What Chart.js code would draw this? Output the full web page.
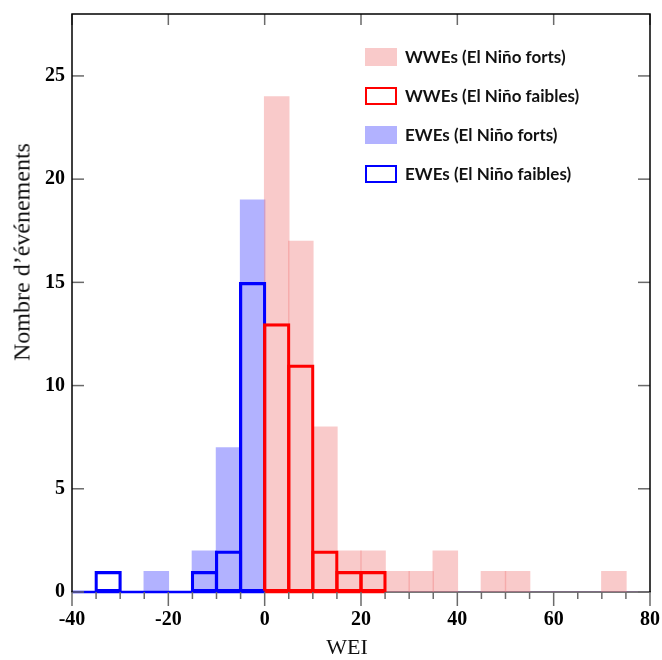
<!DOCTYPE html>
<html>
<head>
<meta charset="utf-8">
<script src="https://cdn.jsdelivr.net/npm/chart.js@4.4.1/dist/chart.umd.min.js"></script>
<style>
  body { margin: 0; background: #fff; }
  #wrap { position: relative; width: 662px; height: 660px; }
  #legend { position: absolute; left: 365px; top: 37px; font-family: Lato, sans-serif; font-weight: bold; font-size: 17px; color: #111; }
  .item { display: flex; align-items: center; height: 39px; }
  .swatch { width: 32px; height: 18px; box-sizing: border-box; margin-right: 8px; }
  .title { position: absolute; font-family: 'Liberation Serif', serif; color: #111; white-space: nowrap; }
  #ytitle { left: 22px; top: 252px; font-size: 24px; transform: translate(-50%, -50%) rotate(-90deg); }
  #xtitle { left: 347px; top: 647px; font-size: 22px; transform: translate(-50%, -50%); }
</style>
</head>
<body>
<div id="wrap">
  <canvas id="chart"></canvas>
  <div id="legend"></div>
  <div class="title" id="ytitle">Nombre d’événements</div>
  <div class="title" id="xtitle">WEI</div>
</div>
<script>
// histogram bins (left edges), width 5
const binLeft = [-40, -35, -30, -25, -20, -15, -10, -5, 0, 5, 10, 15, 20, 25, 30, 35, 40, 45, 50, 55, 60, 65, 70, 75];
const binWidth = 5;

// counts per bin, null = outside the series range
const wweStrong = [0, 0, 0, 0, 0, 0, 0, 0, 24, 17, 8, 2, 2, 1, 1, 2, 0, 1, 1, 0, 0, 0, 1, 0];
const wweWeak   = [null, null, null, null, null, null, null, null, 13, 11, 2, 1, 1, null, null, null, null, null, null, null, null, null, null, null];
const eweStrong = [0, 0, 0, 1, 0, 2, 7, 19, 0, 0, 0, 0, 0, 0, 0, 0, 0, 0, 0, 0, 0, 0, 0, 0];
const eweWeak   = [0, 1, 0, 0, 0, 1, 2, 15, null, null, null, null, null, null, null, null, null, null, null, null, null, null, null, null];

const labels = ['WWEs (El Niño forts)', 'WWEs (El Niño faibles)', 'EWEs (El Niño forts)', 'EWEs (El Niño faibles)'];

const xTicks = [-40, -20, 0, 20, 40, 60, 80];
const yTicks = [0, 5, 10, 15, 20, 25];

// plot box inside the canvas
const AREA = { left: 72, right: 650, top: 14, bottom: 592 };
const binPx = (AREA.right - AREA.left) / ((xTicks[xTicks.length - 1] - xTicks[0]) / binWidth);

const PINK = 'rgba(240, 128, 128, 0.42)';
const LBLUE = 'rgba(0, 0, 255, 0.3)';
const RED = '#ff0000';
const BLUE = '#0000ff';
const OUT_W = 2.6;

function toPoints(arr) {
    return arr.map((v, i) => v === null ? null : { x: binLeft[i] + binWidth / 2, y: v }).filter(p => p);
}

// zero line under an outlined series, from its first to its last bin edge
function baseline(arr) {
    const idx = arr.map((v, i) => v === null ? -1 : i).filter(i => i >= 0);
    return [{ x: binLeft[idx[0]], y: 0 }, { x: binLeft[idx[idx.length - 1]] + binWidth, y: 0 }];
}

const filled = (label, data, color) => ({
    type: 'bar', label, data: toPoints(data), backgroundColor: color, borderWidth: 0,
    barThickness: binPx + 0.8, grouped: false, order: 3
});
const outlined = (label, data, color) => ({
    type: 'bar', label, data: toPoints(data), backgroundColor: 'rgba(0,0,0,0)', borderColor: color,
    borderWidth: OUT_W, borderSkipped: false, barThickness: binPx + OUT_W, grouped: false, order: 2, clip: false
});
const zeroLine = (data, color) => ({
    type: 'line', data: baseline(data), borderColor: color, borderWidth: OUT_W, pointRadius: 0,
    order: 1, clip: false
});

const frame = {
    id: 'frame',
    afterDatasetsDraw(chart) {
        const { ctx, chartArea: a, scales: { x, y } } = chart;
        const seg = (x1, y1, x2, y2) => { ctx.beginPath(); ctx.moveTo(x1, y1); ctx.lineTo(x2, y2); ctx.stroke(); };
        ctx.save();
        ctx.strokeStyle = '#6a6a6a';
        ctx.lineWidth = 1.5;
        yTicks.forEach(v => {
            const py = y.getPixelForValue(v);
            seg(a.left, py, a.left + 12, py);
            seg(a.right, py, a.right - 12, py);
        });
        binLeft.forEach(v => {
            if (v % 20 === 0) return;
            const px = x.getPixelForValue(v);
            seg(px, a.bottom, px, a.bottom + 7);
        });
        xTicks.forEach(v => {
            const px = x.getPixelForValue(v);
            seg(px, a.bottom, px, a.bottom + 14);
            seg(px, a.top, px, a.top + 11);
        });
        ctx.strokeStyle = '#000';
        ctx.beginPath();
        ctx.moveTo(a.left, a.bottom);
        ctx.lineTo(a.left, a.top);
        ctx.lineTo(a.right, a.top);
        ctx.lineTo(a.right, a.bottom);
        ctx.stroke();
        ctx.restore();
    }
};

const tickFont = { family: "'Liberation Serif', serif", size: 20, weight: 'bold' };
const noPad = s => { s.paddingLeft = 0; s.paddingRight = 0; s.paddingTop = 0; s.paddingBottom = 0; };

const chart = new Chart(document.getElementById('chart'), {
    data: {
        datasets: [
            filled(labels[0], wweStrong, PINK),
            filled(labels[2], eweStrong, LBLUE),
            outlined(labels[1], wweWeak, RED),
            outlined(labels[3], eweWeak, BLUE),
            zeroLine(wweWeak, RED),
            zeroLine(eweWeak, BLUE)
        ]
    },
    options: {
        responsive: true,
        maintainAspectRatio: false,
        animation: false,
        layout: { autoPadding: false, padding: { left: 0, top: AREA.top, right: 662 - AREA.right, bottom: 0 } },
        scales: {
            x: {
                type: 'linear', offset: false, min: xTicks[0], max: xTicks[xTicks.length - 1],
                afterFit: s => { s.height = 660 - AREA.bottom; noPad(s); },
                afterBuildTicks: s => { s.ticks = xTicks.map(v => ({ value: v })); },
                grid: { display: false, drawTicks: false, offset: false },
                border: { display: true, color: '#777', width: 2 },
                ticks: { color: '#000', font: tickFont, padding: 16, maxRotation: 0 }
            },
            y: {
                min: 0, max: 28,
                afterFit: s => { s.width = AREA.left; noPad(s); },
                afterBuildTicks: s => { s.ticks = yTicks.map(v => ({ value: v })); },
                grid: { display: false, drawTicks: false },
                border: { display: false },
                ticks: { color: '#000', font: tickFont, padding: 7 }
            }
        },
        plugins: {
            legend: { display: false },
            tooltip: { enabled: false }
        }
    },
    plugins: [frame]
});

// legend in the order of the reference
const legendOrder = [0, 2, 1, 3];
const legend = document.getElementById('legend');
legendOrder.forEach(i => {
    const ds = chart.data.datasets[i];
    const item = document.createElement('div');
    item.className = 'item';
    const sw = document.createElement('div');
    sw.className = 'swatch';
    if (ds.borderWidth) {
        sw.style.border = '2.5px solid ' + ds.borderColor;
    } else {
        sw.style.background = ds.backgroundColor;
    }
    const txt = document.createElement('span');
    txt.textContent = ds.label;
    item.appendChild(sw);
    item.appendChild(txt);
    legend.appendChild(item);
});
</script>
</body>
</html>
